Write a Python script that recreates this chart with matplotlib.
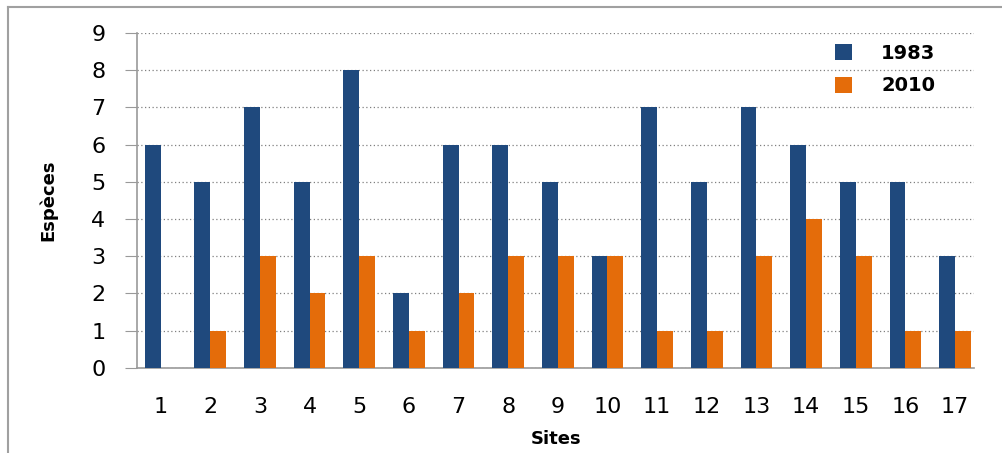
import matplotlib.pyplot as plt
import numpy as np

sites = list(range(1, 18))
especes_1983 = [6, 5, 7, 5, 8, 2, 6, 6, 5, 3, 7, 5, 7, 6, 5, 5, 3]
especes_2010 = [0, 1, 3, 2, 3, 1, 2, 3, 3, 3, 1, 1, 3, 4, 3, 1, 1]

blue = '#1f497d'
orange = '#e46c0a'

fig = plt.figure(figsize=(10.02, 4.53), dpi=100)
ax = fig.add_axes([0.137, 0.188, 0.835, 0.739])

x = np.array(sites)
w = 0.32
ax.bar(x - w / 2, especes_1983, width=w, color=blue, label='1983', zorder=3)
ax.bar(x + w / 2, especes_2010, width=w, color=orange, label='2010', zorder=3)

ax.set_xlim(0.53, 17.38)
ax.set_ylim(0, 9)
ax.set_yticks(range(0, 10))
ax.set_xticks(x)
ax.set_xticklabels([str(s) for s in sites])
ax.grid(axis='y', linestyle=(0, (1, 2)), color='#808080', linewidth=0.9, zorder=0)

for side in ['top', 'right']:
    ax.spines[side].set_visible(False)
ax.spines['left'].set_color('#999999')
ax.spines['bottom'].set_color('#999999')
ax.spines['left'].set_linewidth(1.2)
ax.spines['bottom'].set_linewidth(1.2)
ax.tick_params(axis='y', length=9, color='#999999', labelsize=16, pad=14)
ax.tick_params(axis='x', length=0, labelsize=16, pad=21)

ax.set_ylabel('Espèces', fontsize=13, fontweight='bold', labelpad=24)
ax.set_xlabel('Sites', fontsize=13, fontweight='bold', labelpad=9)

ax.legend(loc='upper right', bbox_to_anchor=(0.975, 1.02), frameon=False,
          prop={'size': 14, 'weight': 'bold'}, handlelength=0.9, handleheight=0.9,
          labelspacing=0.7, handletextpad=1.5)

# chart frame edges
fig.add_artist(plt.Line2D([0.008, 0.008], [0, 0.985], color='#a0a0a0', lw=1.5))
fig.add_artist(plt.Line2D([0.008, 1.0], [0.985, 0.985], color='#a0a0a0', lw=1.5))

fig.savefig('out.png', dpi=100)
